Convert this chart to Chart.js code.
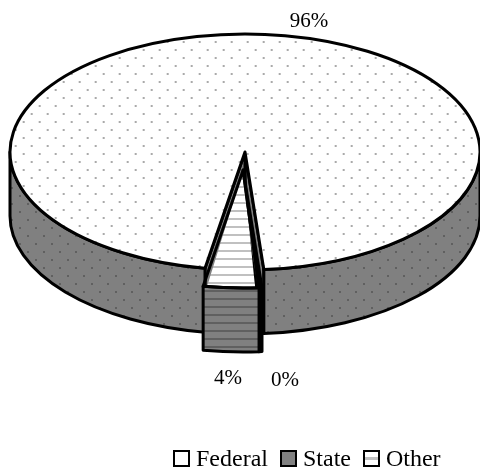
<!DOCTYPE html>
<html>
<head>
<meta charset="utf-8">
<script src="https://cdn.jsdelivr.net/npm/chart.js@4"></script>
<style>
  html, body { margin: 0; background: #fff; }
  #wrap { position: relative; width: 480px; height: 470px; overflow: hidden; }
  #legend { position: absolute; left: 173px; top: 444px; display: flex; font: 24px "Liberation Serif", serif; line-height: 28px; color: #000; white-space: nowrap; }
  #legend span.item { display: flex; align-items: center; margin-right: 12px; }
  #legend i { display: block; width: 13px; height: 13px; border: 2px solid #000; margin-right: 6px; }
</style>
</head>
<body>
<div id="wrap">
  <canvas id="pie" width="480" height="470"></canvas>
  <div id="legend"></div>
</div>
<script>
// Werte aus dem Bild
const categories = ['Federal', 'State', 'Other'];
const shares = [96, 0.2, 3.8];
const shareLabels = ['96%', '0%', '4%'];

// Lage der Ellipse im Bild (Pixel)
const cxS = 245, cyS = 152, rxS = 235, ryS = 118, depth = 64;
const labelPos = [[309, 21], [285, 380], [228, 378]];
const pullOut = 110;

function tile(w, h, bg, paint) {
  const c = document.createElement('canvas');
  c.width = w; c.height = h;
  const g = c.getContext('2d');
  g.fillStyle = bg;
  g.fillRect(0, 0, w, h);
  paint(g);
  return g.createPattern(c, 'repeat');
}
function dots(bg, col) {
  return tile(16, 16, bg, g => {
    g.fillStyle = col;
    g.fillRect(3, 3, 2, 2);
    g.fillRect(11, 11, 2, 2);
  });
}
function stripes(bg, col) {
  return tile(8, 8, bg, g => {
    g.fillStyle = col;
    g.fillRect(0, 2, 8, 2);
  });
}

const topFill = [dots('#fff', '#aaaaaa'), '#808080', stripes('#fff', '#c0c0c0')];
const wallFill = [dots('#808080', '#606060'), '#000', stripes('#808080', '#606060')];

const fake3d = {
  id: 'fake3d',
  // Abbildung vom Kreis des Charts auf die Ellipse
  // shiftEl: Stueck, dessen Verschiebung gilt (State haengt an Other)
  geo(el, shiftEl) {
    const k = rxS / el.outerRadius, q = ryS / el.outerRadius;
    const s = shiftEl || el;
    const mid = (s.startAngle + s.endAngle) / 2;
    const off = (s.options.offset || 0) / 4;
    return {
      k, q,
      x: cxS + k * off * Math.cos(mid),
      y: cyS + q * off * Math.sin(mid),
      a: el.startAngle, b: el.endAngle
    };
  },
  wall(ctx, g, i) {
    // nur die vordere Haelfte ist sichtbar
    [[0, Math.PI], [2 * Math.PI, 3 * Math.PI]].forEach(r => {
      const a = Math.max(g.a, r[0]), b = Math.min(g.b, r[1]);
      if (a >= b) return;
      ctx.beginPath();
      ctx.ellipse(g.x, g.y, rxS, ryS, 0, a, b);
      ctx.ellipse(g.x, g.y + depth, rxS, ryS, 0, b, a, true);
      ctx.closePath();
      ctx.fillStyle = wallFill[i];
      ctx.fill();
      ctx.stroke();
    });
  },
  cutWall(ctx, g, ang) {
    const ex = g.x + rxS * Math.cos(ang), ey = g.y + ryS * Math.sin(ang);
    ctx.beginPath();
    ctx.moveTo(g.x, g.y);
    ctx.lineTo(ex, ey);
    ctx.lineTo(ex, ey + depth);
    ctx.lineTo(g.x, g.y + depth);
    ctx.closePath();
    ctx.fillStyle = '#808080';
    ctx.fill();
    ctx.stroke();
  },
  beforeDatasetsDraw(chart) {
    const ctx = chart.ctx, arcs = chart.getDatasetMeta(0).data;
    const el = arcs[0], g = this.geo(el);
    // Muster sollen in Bildpixeln bleiben
    const inv = new DOMMatrix().scale(1 / g.k, 1 / g.q);
    topFill.forEach(p => { if (p.setTransform) p.setTransform(inv); });
    ctx.save();
    ctx.lineWidth = 3;
    ctx.strokeStyle = '#000';
    ctx.lineJoin = 'round';
    this.cutWall(ctx, g, g.b);
    this.cutWall(ctx, g, g.a);
    this.wall(ctx, g, 0);
    ctx.restore();
    // Deckflaechen zeichnet Chart.js selbst, nur gestaucht
    ctx.save();
    ctx.translate(cxS, cyS);
    ctx.scale(g.k, g.q);
    ctx.translate(-el.x, -el.y);
  },
  afterDatasetsDraw(chart) {
    const ctx = chart.ctx, arcs = chart.getDatasetMeta(0).data;
    ctx.restore();
    ctx.save();
    ctx.lineWidth = 3;
    ctx.strokeStyle = '#000';
    ctx.lineJoin = 'round';
    arcs.forEach((el, i) => {
      const g = this.geo(el, i > 0 ? arcs[2] : el);
      if (i > 0) this.wall(ctx, g, i);
      ctx.beginPath();
      ctx.moveTo(g.x, g.y);
      ctx.ellipse(g.x, g.y, rxS, ryS, 0, g.a, g.b);
      ctx.closePath();
      ctx.stroke();
    });
    ctx.fillStyle = '#000';
    ctx.font = '21px "Liberation Serif", serif';
    ctx.textAlign = 'center';
    ctx.textBaseline = 'middle';
    shareLabels.forEach((t, i) => ctx.fillText(t, labelPos[i][0], labelPos[i][1]));
    ctx.restore();
  }
};

new Chart(document.getElementById('pie'), {
  type: 'pie',
  data: {
    labels: categories,
    datasets: [{
      data: shares,
      backgroundColor: topFill,
      borderWidth: 0,
      offset: [0, pullOut, pullOut],
      clip: false
    }]
  },
  options: {
    responsive: false,
    animation: false,
    events: [],
    rotation: 189.8,
    plugins: {
      legend: { display: false },
      tooltip: { enabled: false }
    }
  },
  plugins: [fake3d]
});

// Legende
const swatches = [
  'background:#fff',
  'background:#808080',
  'background:linear-gradient(#fff 0 5px,#c0c0c0 5px 8px,#fff 8px)'
];
const legend = document.getElementById('legend');
categories.forEach((name, i) => {
  const s = document.createElement('span');
  s.className = 'item';
  const b = document.createElement('i');
  b.style.cssText = swatches[i];
  s.appendChild(b);
  s.appendChild(document.createTextNode(name));
  legend.appendChild(s);
});
</script>
</body>
</html>
